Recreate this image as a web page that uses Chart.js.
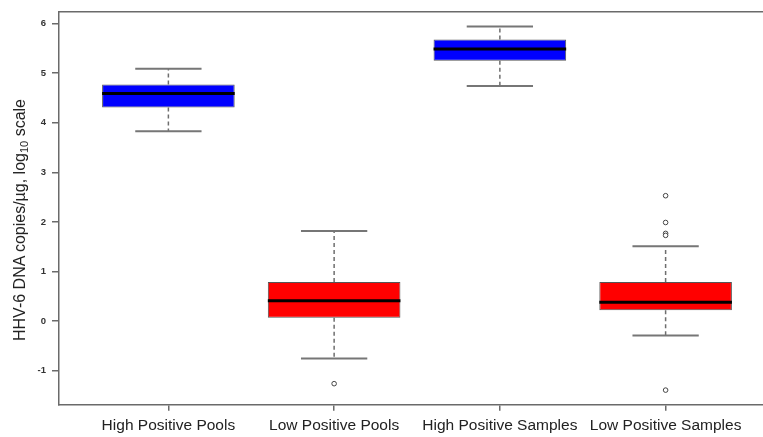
<!DOCTYPE html>
<html>
<head>
<meta charset="utf-8">
<script src="https://cdn.jsdelivr.net/npm/chart.js@4/dist/chart.umd.min.js"></script>
<style>
  html, body { margin: 0; padding: 0; background: #fff; overflow: hidden; }
  #wrap { position: relative; width: 800px; height: 437px; }
  #ytitle {
    position: absolute; left: 20px; top: 220px;
    transform: translate(-50%, -50%) rotate(-90deg);
    white-space: nowrap;
    font-family: "Liberation Sans", Arial, sans-serif;
    font-size: 16px; color: #222;
  }
  #ytitle sub { font-size: 11px; vertical-align: -3px; line-height: 0; }
</style>
</head>
<body>
<div id="wrap">
  <canvas id="c" width="800" height="437"></canvas>
  <div id="ytitle">HHV-6 DNA copies/µg, log<sub>10</sub> scale</div>
</div>
<script>
const categories = ['High Positive Pools', 'Low Positive Pools', 'High Positive Samples', 'Low Positive Samples'];
const whiskerLow  = [3.83, -0.75, 4.74, -0.29];
const q1          = [4.31,  0.07, 5.25,  0.22];
const median      = [4.59,  0.41, 5.49,  0.38];
const q3          = [4.77,  0.79, 5.68,  0.79];
const whiskerHigh = [5.09,  1.82, 5.94,  1.51];
const outlierGroup = [2, 4, 4, 4, 4, 4];
const outlierValue = [-1.26, 2.53, 1.99, 1.77, 1.73, -1.39];
const boxColors = ['#0000ff', '#ff0000', '#0000ff', '#ff0000'];
const yTicks = [-1, 0, 1, 2, 3, 4, 5, 6];

const BOX_W = 0.8, CAP_W = 0.4;

const boxPlugin = {
  id: 'boxExtras',
  beforeDatasetsDraw(chart) {
    const ctx = chart.ctx, xs = chart.scales.x, ys = chart.scales.y;
    ctx.save();
    categories.forEach((c, i) => {
      const x = xs.getPixelForValue(i + 1);
      const half = xs.getPixelForValue(i + 1 + CAP_W / 2) - x;
      ctx.strokeStyle = '#6e6e6e';
      ctx.lineWidth = 1.5;
      ctx.setLineDash([4, 3]);
      ctx.beginPath();
      ctx.moveTo(x, ys.getPixelForValue(q3[i]));
      ctx.lineTo(x, ys.getPixelForValue(whiskerHigh[i]));
      ctx.moveTo(x, ys.getPixelForValue(q1[i]));
      ctx.lineTo(x, ys.getPixelForValue(whiskerLow[i]));
      ctx.stroke();
      ctx.setLineDash([]);
      ctx.lineWidth = 2;
      ctx.strokeStyle = '#767676';
      ctx.beginPath();
      [whiskerHigh[i], whiskerLow[i]].forEach(v => {
        const y = ys.getPixelForValue(v);
        ctx.moveTo(x - half, y);
        ctx.lineTo(x + half, y);
      });
      ctx.stroke();
    });
    ctx.restore();
  },
  afterDatasetsDraw(chart) {
    const ctx = chart.ctx, xs = chart.scales.x, ys = chart.scales.y;
    ctx.save();
    ctx.strokeStyle = '#000';
    ctx.lineWidth = 3;
    categories.forEach((c, i) => {
      const x0 = xs.getPixelForValue(i + 1 - BOX_W / 2);
      const x1 = xs.getPixelForValue(i + 1 + BOX_W / 2);
      const y = ys.getPixelForValue(median[i]);
      ctx.beginPath();
      ctx.moveTo(x0, y);
      ctx.lineTo(x1, y);
      ctx.stroke();
    });
    const a = chart.chartArea;
    ctx.strokeStyle = '#6a6a6a';
    ctx.lineWidth = 1.5;
    ctx.beginPath();
    ctx.moveTo(a.left, a.top);
    ctx.lineTo(a.right, a.top);
    ctx.stroke();
    ctx.restore();
  }
};

new Chart(document.getElementById('c'), {
  type: 'bar',
  data: {
    datasets: [
      {
        type: 'bar',
        data: categories.map((c, i) => ({ x: i + 1, y: [q1[i], q3[i]] })),
        backgroundColor: boxColors,
        borderColor: '#555',
        borderWidth: 1,
        borderSkipped: false,
        categoryPercentage: 1,
        barPercentage: BOX_W,
        order: 2
      },
      {
        type: 'scatter',
        data: outlierGroup.map((g, i) => ({ x: g, y: outlierValue[i] })),
        pointStyle: 'circle',
        pointRadius: 2.3,
        pointBorderWidth: 1,
        pointBackgroundColor: '#fff',
        pointBorderColor: '#444',
        order: 1
      }
    ]
  },
  options: {
    responsive: false,
    animation: false,
    devicePixelRatio: 1,
    layout: { padding: { top: 8, right: 25, left: 0, bottom: 0 } },
    plugins: { legend: { display: false }, tooltip: { enabled: false }, title: { display: false } },
    scales: {
      x: {
        type: 'linear',
        offset: false,
        min: 0.34, max: 4.66,
        afterBuildTicks: s => { s.ticks = categories.map((c, i) => ({ value: i + 1 })); },
        afterFit: s => { s.height = 32.3; },
        grid: { offset: false, drawOnChartArea: false, tickLength: 6, color: '#6a6a6a', lineWidth: 1.5 },
        border: { color: '#6a6a6a', width: 1.5 },
        ticks: {
          autoSkip: false, maxRotation: 0,
          padding: 6,
          color: '#222',
          font: { family: '"Liberation Sans", Arial, sans-serif', size: 15.5 },
          callback: v => categories[v - 1]
        }
      },
      y: {
        type: 'linear',
        min: -1.684, max: 6.24,
        afterBuildTicks: s => { s.ticks = yTicks.map(v => ({ value: v })); },
        afterFit: s => { s.width = 59; },
        grid: { drawOnChartArea: false, tickLength: 7, color: '#6a6a6a', lineWidth: 1.5 },
        border: { color: '#6a6a6a', width: 1.5 },
        ticks: {
          padding: 6,
          color: '#333',
          font: { family: '"Liberation Sans", Arial, sans-serif', size: 9.5, weight: 'bold' },
          callback: v => String(v)
        }
      }
    }
  },
  plugins: [boxPlugin]
});
</script>
</body>
</html>
